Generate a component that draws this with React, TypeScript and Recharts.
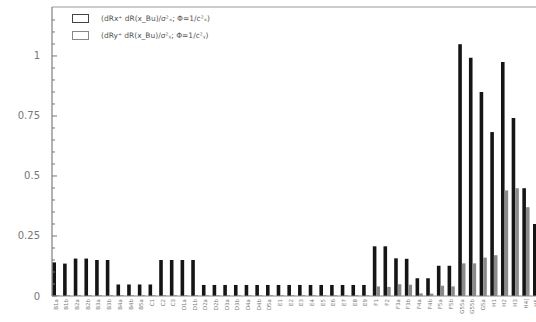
import React from 'react';
import { BarChart, Bar, XAxis, YAxis, Legend } from 'recharts';

const categories = [
  'B1a', 'B1b', 'B2a', 'B2b', 'B3a', 'B3b', 'B4a', 'B4b', 'B5a', 'C1',
  'C2', 'C3', 'D1a', 'D1b', 'D2a', 'D2b', 'D3a', 'D3b', 'D4a', 'D4b',
  'D5a', 'E1', 'E2', 'E3', 'E4', 'E5', 'E6', 'E7', 'E8', 'E9',
  'F1', 'F2', 'F3a', 'F3b', 'F4a', 'F4b', 'F5a', 'F5b', 'G55a', 'G55b',
  'G5a', 'H1', 'H2', 'H3', 'H4|', 'H5'
];

const seriesX = [
  0.14, 0.135, 0.156, 0.156, 0.15, 0.15, 0.048, 0.048, 0.048, 0.048,
  0.15, 0.15, 0.15, 0.15, 0.046, 0.046, 0.046, 0.046, 0.046, 0.046,
  0.046, 0.046, 0.046, 0.046, 0.046, 0.046, 0.046, 0.046, 0.046, 0.046,
  0.207, 0.207, 0.157, 0.155, 0.074, 0.074, 0.126, 0.126, 1.049, 0.993,
  0.85, 0.683, 0.975, 0.742, 0.449, 0.3
];

const seriesY = [
  0.003, 0.003, 0.003, 0.003, 0.003, 0.003, 0.003, 0.003, 0.003, 0.003,
  0.003, 0.003, 0.003, 0.003, 0.003, 0.003, 0.003, 0.003, 0.003, 0.003,
  0.003, 0.003, 0.003, 0.003, 0.003, 0.003, 0.003, 0.003, 0.003, 0.003,
  0.04, 0.038, 0.049, 0.047, 0.011, 0.01, 0.043, 0.04, 0.136, 0.136,
  0.16, 0.17, 0.44, 0.449, 0.37, 0.2
];

const yTicks = [
  0, 0.05, 0.1, 0.15, 0.2, 0.25, 0.3, 0.35, 0.4, 0.45, 0.5, 0.55,
  0.6, 0.65, 0.7, 0.75, 0.8, 0.85, 0.9, 0.95, 1, 1.05, 1.1, 1.15
];
const yMajorTicks = [0, 0.25, 0.5, 0.75, 1];

const seriesNames = [
  '(dRx⁺ dR(x_Bu)/σ²ₓ; Φ=1/c²ₓ)',
  '(dRy⁺ dR(x_Bu)/σ²ᵧ; Φ=1/c²ᵧ)'
];

const data = categories.map((name, i) => ({ name, x: seriesX[i], y: seriesY[i] }));

const isMajor = (v: number) => yMajorTicks.some((m) => Math.abs(m - v) < 1e-6);

const LeftTick = (props: any) => {
  const { x, y, payload } = props;
  const axisX = x + 12;
  const v = payload.value as number;
  const major = isMajor(v);
  return (
    <g>
      <line x1={axisX} x2={axisX + (major ? 5 : 3)} y1={y} y2={y} stroke="#777" strokeWidth={1} />
      {major && (
        <text x={x} y={y} dy={3.5} textAnchor="end" fontSize={10} fill="#777" fontFamily="DejaVu Sans">
          {String(v)}
        </text>
      )}
    </g>
  );
};

const RightTick = (props: any) => {
  const { x, y, payload } = props;
  const axisX = x - 6;
  const major = isMajor(payload.value as number);
  return <line x1={axisX} x2={axisX - (major ? 5 : 3)} y1={y} y2={y} stroke="#777" strokeWidth={1} />;
};

const XTick = (props: any) => {
  const { x, y, payload } = props;
  return (
    <text
      x={x}
      y={y}
      transform={`rotate(-90 ${x} ${y})`}
      textAnchor="end"
      dominantBaseline="central"
      fontSize={5.5}
      fill="#777"
      fontFamily="DejaVu Sans"
    >
      {payload.value}
    </text>
  );
};

const LegendContent = (props: any) => {
  const { payload } = props;
  return (
    <div style={{ fontFamily: 'DejaVu Sans', fontSize: 7.5, color: '#555' }}>
      {(payload || []).map((entry: any, i: number) => (
        <div key={i} style={{ display: 'flex', alignItems: 'center', height: 17 }}>
          <div
            style={{
              width: 15,
              height: 7,
              border: `1px solid ${i === 0 ? '#444' : '#888'}`,
              background: '#fff',
              marginRight: 12,
            }}
          />
          <span>{entry.value}</span>
        </div>
      ))}
    </div>
  );
};

export default function App() {
  return (
    <div
      style={{
        position: 'fixed',
        left: 0,
        top: 0,
        width: 536,
        height: 322,
        overflow: 'hidden',
        background: '#fff',
      }}
    >
      <BarChart
        width={560}
        height={322}
        data={data}
        margin={{ top: 6, right: 18, bottom: 0, left: 8 }}
        barGap={0}
        barSize={3.6}
      >
        <XAxis
          dataKey="name"
          interval={0}
          tickSize={0}
          tickMargin={3}
          height={26}
          padding={{ left: -1.6, right: -4.7 }}
          axisLine={{ stroke: '#888' }}
          tick={<XTick />}
        />
        <XAxis
          xAxisId="top"
          dataKey="name"
          orientation="top"
          height={1}
          tick={false}
          tickLine={false}
          axisLine={{ stroke: '#999' }}
        />
        <YAxis
          yAxisId="left"
          domain={[0, 1.204]}
          ticks={yTicks}
          interval={0}
          width={44}
          tickSize={4}
          tickMargin={8}
          tickLine={false}
          axisLine={{ stroke: '#666' }}
          tick={<LeftTick />}
        />
        <YAxis
          yAxisId="right"
          orientation="right"
          domain={[0, 1.204]}
          ticks={yTicks}
          interval={0}
          width={5}
          tickSize={4}
          tickMargin={2}
          tickLine={false}
          axisLine={{ stroke: '#666' }}
          tick={<RightTick />}
        />
        <Legend
          layout="vertical"
          align="center"
          verticalAlign="middle"
          content={<LegendContent />}
          wrapperStyle={{ position: 'absolute', left: 72, top: 10, width: 230 }}
        />
        <Bar yAxisId="left" dataKey="x" name={seriesNames[0]} fill="#151515" isAnimationActive={false} />
        <Bar yAxisId="left" dataKey="y" name={seriesNames[1]} fill="#8a8a8a" isAnimationActive={false} />
      </BarChart>
    </div>
  );
}
